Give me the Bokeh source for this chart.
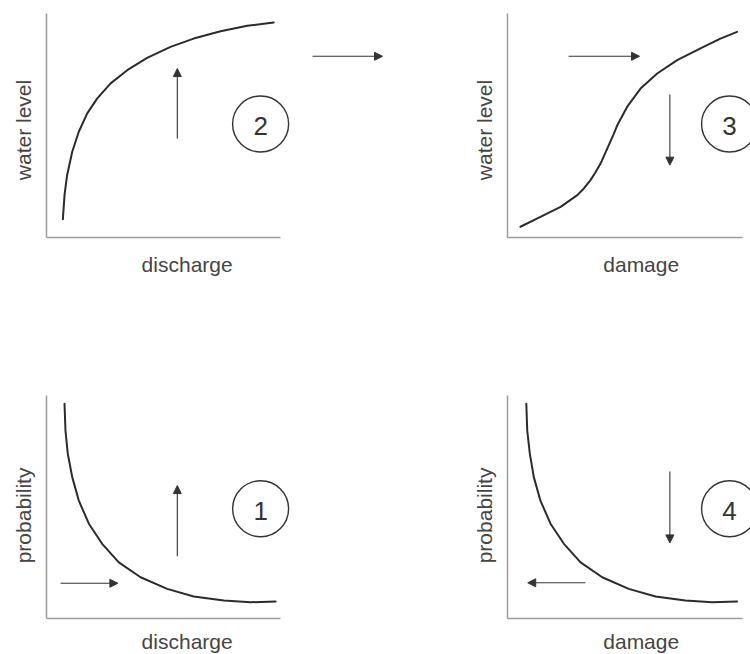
from bokeh.plotting import figure
from bokeh.models import Range1d, Label, Arrow, NormalHead, ColumnDataSource, FixedTicker
from bokeh.layouts import column, row
from bokeh.embed import file_html
from bokeh.resources import INLINE
from bokeh.core.properties import value

# ---------------- data (normalised units, 0..1 along each drawn axis) ----------------
# Panel 2: water level vs discharge (rating curve)
p2_discharge = [0.070, 0.077, 0.088, 0.110, 0.138, 0.174, 0.217, 0.274, 0.345, 0.430, 0.530, 0.629, 0.744, 0.858, 0.971]
p2_level     = [0.082, 0.189, 0.278, 0.383, 0.472, 0.554, 0.621, 0.688, 0.747, 0.802, 0.851, 0.888, 0.921, 0.945, 0.960]
# Panel 3: water level vs damage
p3_damage = [0.055, 0.140, 0.226, 0.297, 0.325, 0.353, 0.374, 0.396, 0.431, 0.450, 0.467, 0.509, 0.566, 0.637, 0.722, 0.821, 0.906, 0.977]
p3_level  = [0.048, 0.092, 0.137, 0.189, 0.219, 0.256, 0.290, 0.330, 0.412, 0.457, 0.501, 0.583, 0.665, 0.732, 0.792, 0.844, 0.888, 0.918]
# Panel 1: probability vs discharge
p1_discharge = [0.077, 0.081, 0.091, 0.110, 0.138, 0.181, 0.238, 0.309, 0.402, 0.516, 0.629, 0.758, 0.872, 0.979]
p1_prob      = [0.963, 0.843, 0.739, 0.634, 0.529, 0.425, 0.335, 0.252, 0.185, 0.133, 0.099, 0.081, 0.073, 0.076]
# Panel 4: probability vs damage
p4_damage = [0.080, 0.084, 0.095, 0.112, 0.140, 0.183, 0.240, 0.311, 0.403, 0.516, 0.630, 0.757, 0.871, 0.977]
p4_prob   = [0.963, 0.843, 0.739, 0.634, 0.529, 0.425, 0.335, 0.252, 0.185, 0.133, 0.099, 0.081, 0.073, 0.076]

# step numbers and their circle centres
p2_number, p2_circle = "2", (0.915, 0.507)
p3_number, p3_circle = "3", (0.945, 0.507)
p1_number, p1_circle = "1", (0.915, 0.492)
p4_number, p4_circle = "4", (0.945, 0.492)

# arrows: (x_start, y_start, x_end, y_end)
p2_arrows = [(0.559, 0.442, 0.559, 0.754), (1.137, 0.809, 1.436, 0.809)]
p3_arrows = [(0.260, 0.809, 0.562, 0.809), (0.691, 0.638, 0.691, 0.323)]
p1_arrows = [(0.060, 0.158, 0.305, 0.158), (0.559, 0.279, 0.559, 0.596)]
p4_arrows = [(0.332, 0.160, 0.086, 0.160), (0.691, 0.659, 0.691, 0.339)]

FONT = "Liberation Sans"
INK = "#2b2b2b"
TXT = "#454545"
AXC = "#9c9c9c"


def panel(width, height, ox, oy, axis_w, axis_h,
          xs, ys, xlabel, ylabel, xlabel_pos, ylabel_pos, number, circle, arrows):
    # ox, oy: position of the axes origin inside the figure (px from left / top)
    p = figure(width=width, height=height,
               x_range=Range1d(-ox / axis_w, (width - ox) / axis_w),
               y_range=Range1d(-(height - oy) / axis_h, oy / axis_h),
               output_backend="svg", toolbar_location=None,
               min_border=0, min_border_left=0, min_border_right=0,
               min_border_top=0, min_border_bottom=0)
    p.grid.visible = False
    p.outline_line_color = None
    p.background_fill_color = "white"
    p.border_fill_color = "white"
    for ax in (p.xaxis[0], p.yaxis[0]):
        ax.ticker = FixedTicker(ticks=[])
        ax.major_tick_line_color = None
        ax.minor_tick_line_color = None
        ax.major_tick_out = 0
        ax.minor_tick_out = 0
        ax.major_label_text_font_size = "0px"
        ax.major_label_standoff = 0
        ax.axis_line_color = AXC
        ax.axis_line_width = 1.5
        ax.fixed_location = 0
        ax.bounds = (0, 1)

    p.line(xs, ys, line_width=2, line_color=INK, line_join="round", line_cap="round")

    p.scatter([circle[0]], [circle[1]], marker="circle", size=56,
              fill_color=None, line_color="#333333", line_width=1.4)
    p.text([circle[0]], [circle[1] - 2.0 / axis_h], text=[number],
           text_font=value(FONT), text_font_size="26px", text_color="#333333",
           text_align="center", text_baseline="middle")

    src = ColumnDataSource(dict(x0=[a[0] for a in arrows], y0=[a[1] for a in arrows],
                                x1=[a[2] for a in arrows], y1=[a[3] for a in arrows]))
    p.add_layout(Arrow(x_start="x0", y_start="y0", x_end="x1", y_end="y1", source=src,
                       line_color="#333333", line_width=1.1,
                       end=NormalHead(size=8, fill_color="#333333", line_color="#333333", line_width=1)))

    p.add_layout(Label(x=xlabel_pos[0], y=xlabel_pos[1], text=xlabel,
                       text_font=FONT, text_font_size="21px", text_color=TXT,
                       text_align="center", text_baseline="middle"))
    p.add_layout(Label(x=ylabel_pos[0], y=ylabel_pos[1], text=ylabel, angle=1.5707963,
                       text_font=FONT, text_font_size="21px", text_color=TXT,
                       text_align="center", text_baseline="middle"))
    return p


f2 = panel(400, 320, 46, 237, 234, 224, p2_discharge, p2_level,
           "discharge", "water level", (0.601, -0.122), (-0.0996, 0.48),
           p2_number, p2_circle, p2_arrows)
f3 = panel(350, 320, 107, 237, 235, 224, p3_damage, p3_level,
           "damage", "water level", (0.569, -0.122), (-0.099, 0.48),
           p3_number, p3_circle, p3_arrows)
f1 = panel(400, 334, 46, 298, 234, 223, p1_discharge, p1_prob,
           "discharge", "probability", (0.601, -0.102), (-0.0996, 0.462),
           p1_number, p1_circle, p1_arrows)
f4 = panel(350, 334, 107, 298, 235, 223, p4_damage, p4_prob,
           "damage", "probability", (0.569, -0.102), (-0.099, 0.462),
           p4_number, p4_circle, p4_arrows)

layout = column(row(f2, f3), row(f1, f4))

open("out.html", "w").write(file_html(layout, INLINE))
